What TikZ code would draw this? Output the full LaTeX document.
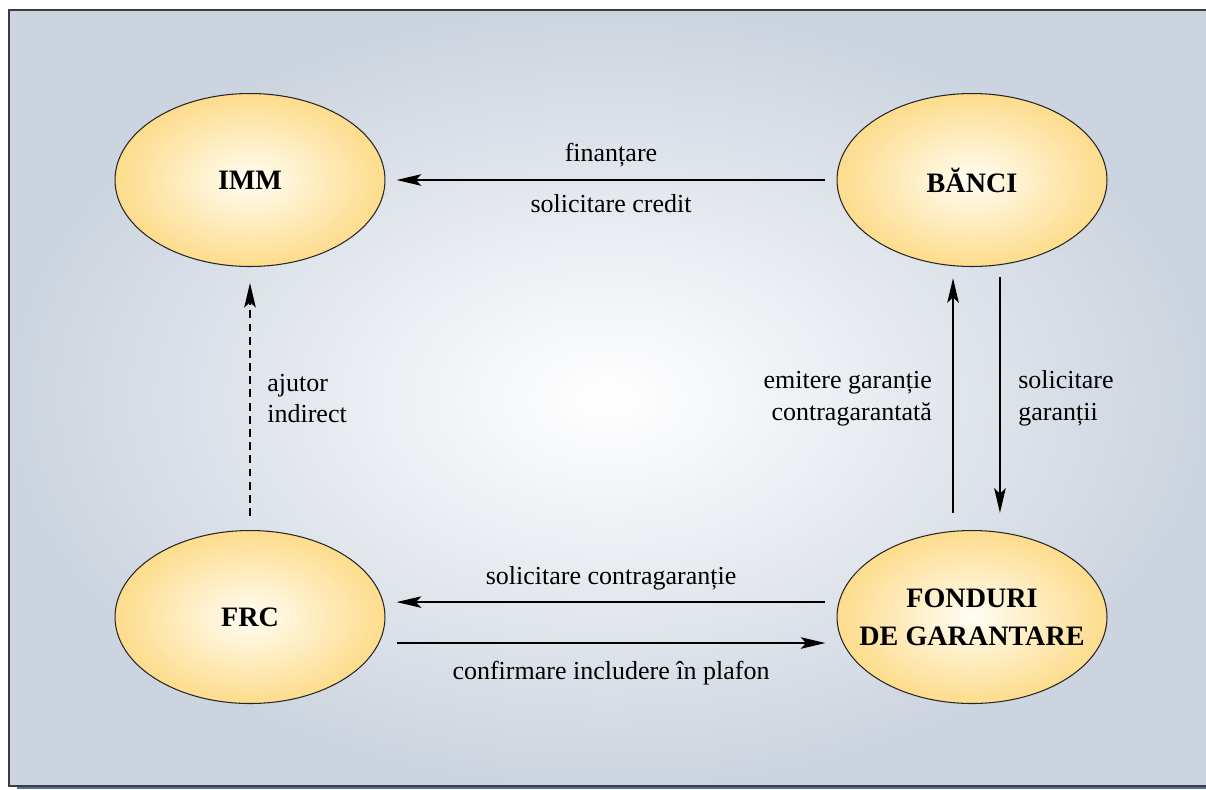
\documentclass[tikz,border=0pt]{standalone}
\usepackage{fontspec}
\setmainfont{Liberation Serif}
\usetikzlibrary{shapes.geometric,arrows.meta}

\definecolor{fundal}{RGB}{204,212,223}
\definecolor{galben}{RGB}{253,220,140}
\definecolor{crem}{RGB}{255,253,243}
\definecolor{chenar}{RGB}{60,60,66}
\definecolor{umbra}{RGB}{78,118,148}

\tikzset{
  actor/.style={ellipse, draw=black!85, line width=0.6pt,
    inner color=crem, outer color=galben,
    minimum width=5.4cm, minimum height=3.46cm, inner sep=0pt,
    align=center, font=\fontsize{16}{21.6}\selectfont\bfseries},
  flux/.style={-{Stealth[length=14pt,width=6.5pt,inset=3pt]}, line width=1.5pt},
  eticheta/.style={font=\fontsize{14.8}{18.2}\selectfont},
}

\begin{document}
\begin{tikzpicture}[x=0.02cm,y=-0.02cm]
  % fundal si chenar
  \useasboundingbox (0,0) rectangle (1206,789);
  \fill[umbra] (17,786) rectangle (1206,789);
  \shade[inner color=white, outer color=fundal] (9,10) rectangle (1206,786);
  \draw[chenar, line width=0.8pt] (1206,10) -- (9,10) -- (9,786) -- (1206,786);

  % actori
  \node[actor] (imm) at (250,180) {IMM};
  \node[actor] (banci) at (972,180) {BĂNCI};
  \node[actor] (frc) at (250,617) {FRC};
  \node[actor, inner xsep=-12pt] (fond) at (972,617) {FONDURI\\DE GARANTARE};

  % banci -> imm
  \draw[flux, shorten <=6.8pt, shorten >=6.3pt] (banci) -- (imm)
    node[eticheta, midway, above=3.5pt] (finantare) {finanțare}
    node[eticheta, midway, below=4pt] (credit) {solicitare credit};

  % fonduri <-> banci
  \draw[flux, shorten <=9.7pt, shorten >=6.3pt] ([xshift=-10.8pt]fond.north) -- ([xshift=-10.8pt]banci.south)
    node[eticheta, midway, left=8pt, align=right] (emitere) {emitere garanție\\contragarantată};
  \draw[flux, shorten <=5.7pt, shorten >=9.7pt] ([xshift=15.9pt]banci.south) -- ([xshift=15.9pt]fond.north)
    node[eticheta, midway, right=6.4pt, align=left] (garantii) {solicitare\\garanții};

  % frc -> imm
  \draw[flux, dash pattern=on 4.5pt off 3pt, shorten <=8pt, shorten >=9pt] (frc) -- (imm)
    node[eticheta, midway, right=5.8pt, align=left] (ajutor) {ajutor\\indirect};

  % fonduri <-> frc
  \draw[flux, shorten <=6.8pt, shorten >=6.3pt] ([yshift=8.5pt]fond.west) -- ([yshift=8.5pt]frc.east)
    node[eticheta, midway, above=3pt] (contra) {solicitare contragaranție};
  \draw[flux, shorten <=6.8pt, shorten >=6.3pt] ([yshift=-14.8pt]frc.east) -- ([yshift=-14.8pt]fond.west)
    node[eticheta, midway, below=6pt] (plafon) {confirmare includere în plafon};
\end{tikzpicture}
\end{document}
